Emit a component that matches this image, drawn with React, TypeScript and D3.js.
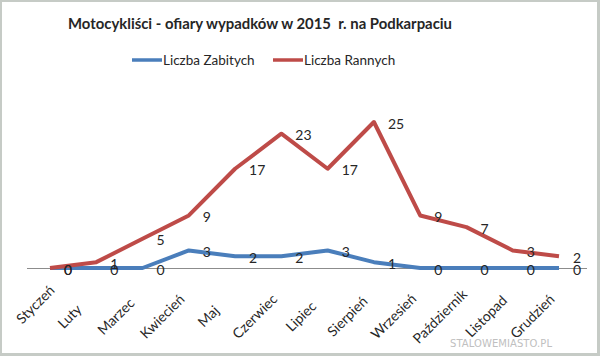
import React from "react";
import * as d3 from "d3";

const months = ["Styczeń","Luty","Marzec","Kwiecień","Maj","Czerwiec","Lipiec","Sierpień","Wrzesień","Październik","Listopad","Grudzień"];
const zabici = [0,0,0,3,2,2,3,1,0,0,0,0];
const ranni = [0,1,5,9,17,23,17,25,9,7,3,2];
const seriesNames = ["Liczba Zabitych","Liczba Rannych"];
const colors = ["#4a7ebb","#be4b48"];
const title = "Motocykliści - ofiary wypadków w 2015  r. na Podkarpaciu";

const W = 600, H = 356;
const FONT = "Lato, 'Open Sans', sans-serif";

export default function App() {
  const x = d3.scalePoint<string>().domain(months).range([50, 559]);
  const y = d3.scaleLinear().domain([0, 25]).range([268, 122]);
  const line = d3.line<number>().x((_, i) => x(months[i])!).y(d => y(d));
  const series = [zabici, ranni];
  return (
    <svg width={W} height={H} style={{ position: "absolute", left: 0, top: 0 }}>
      <rect x={0} y={0} width={W} height={H} fill="#c6cbc6" />
      <rect x={2} y={2} width={595} height={351} fill="#ffffff" />
      <text x={68} y={29} textLength={384} lengthAdjust="spacingAndGlyphs" fontFamily={FONT} fontWeight="bold" fontSize={16} fill="#262626" style={{ whiteSpace: "pre" }}>{title}</text>
      {seriesNames.map((n, i) => {
        const lx = i === 0 ? 132 : 273;
        return (
          <g key={n}>
            <line x1={lx} x2={lx + 30} y1={60} y2={60} stroke={colors[i]} strokeWidth={3.5} />
            <text x={lx + 31} y={60} dominantBaseline="central" fontFamily={FONT} fontSize={13.5} fill="#262626">{n}</text>
          </g>
        );
      })}
      <line x1={27} x2={587} y1={268.5} y2={268.5} stroke="#8c8c8c" strokeWidth={1} />
      {series.map((s, si) => (
        <path key={si} d={line(s)!} fill="none" stroke={colors[si]} strokeWidth={4} strokeLinejoin="round" />
      ))}
      {series.map((s, si) =>
        s.map((v, i) => (
          <text key={si + "-" + i} x={x(months[i])! + 14} y={y(v) + 1} dominantBaseline="central" fontFamily={FONT} fontSize={14} fill="#262626">{v}</text>
        ))
      )}
      {months.map((m, i) => {
        let cx = x(m)! - 27, cy = 316;
        if (i === 0) { cx += 12; cy -= 12; }
        return (
          <text key={m} transform={`translate(${cx},${cy}) rotate(-45)`} textAnchor="middle" dominantBaseline="central" fontFamily={FONT} fontSize={14} fill="#262626">{m}</text>
        );
      })}
      <text x={450} y={347} textLength={102} lengthAdjust="spacing" fontFamily="'DejaVu Sans', sans-serif" fontSize={10} fill="#c0c0c0">STALOWEMIASTO.PL</text>
    </svg>
  );
}
